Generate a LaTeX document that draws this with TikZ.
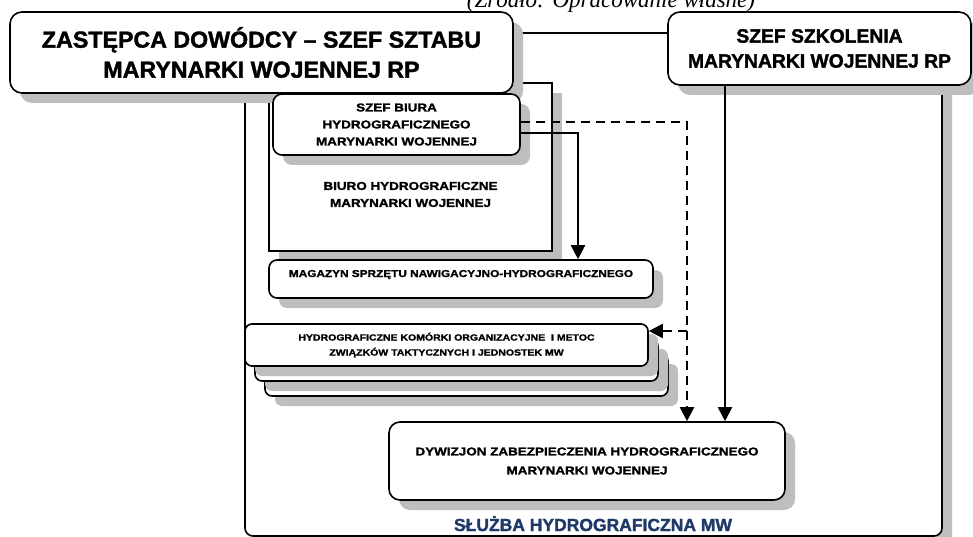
\documentclass[tikz,border=0pt]{standalone}
\usepackage{fontspec}
\setmainfont{Liberation Sans}[BoldFeatures={FakeBold=1.6}]
\newfontfamily\widef{Liberation Sans}[FakeStretch=1.18,BoldFeatures={FakeBold=1.6}]
\newfontfamily\capf{Liberation Serif}
\usetikzlibrary{shadows,arrows.meta,calc}
\definecolor{shgray}{RGB}{190,190,190}
\definecolor{navy}{RGB}{31,58,104}
\begin{document}
\begin{tikzpicture}[x=1pt,y=-1pt,
  shd/.style={drop shadow={shadow xshift=10pt,shadow yshift=-10pt,fill=shgray,opacity=1}},
  box/.style={draw,line width=1.6pt,fill=white,rounded corners=#1,shd,inner sep=0pt,align=center},
  box/.default=9pt,
  sbox/.style={draw,line width=1.6pt,fill=white,shd,inner sep=0pt},
  conn/.style={line width=2pt,-{Triangle[length=14pt,width=14pt]}},
  dconn/.style={conn,dash pattern=on 9pt off 6pt},
  bigtxt/.style={font=\bfseries\fontsize{23.2}{30}\selectfont},
  medtxt/.style={font=\bfseries\fontsize{19.3}{25}\selectfont},
  smtxt/.style={font=\widef\bfseries\fontsize{11.4}{17}\selectfont},
]
\useasboundingbox (0,0) rectangle (973,537);

% outer frame (Sluzba Hydrograficzna MW)
\node[sbox,rounded corners=8pt,minimum width=697pt,minimum height=503pt] (frame) at (593.5,284.5) {};

% Biuro hydrograficzne
\node[sbox,minimum width=283pt,minimum height=168pt] (biuro) at (410.5,167) {};
\node[smtxt,align=center] (biurotxt) at (410.5,194.5) {BIURO HYDROGRAFICZNE\\MARYNARKI WOJENNEJ};

% Magazyn
\node[box=8pt,minimum width=384pt,minimum height=38pt] (mag) at (461,279) {};
\node[font=\widef\bfseries\fontsize{10}{12}\selectfont,anchor=base] (magtxt) at (461,277) {MAGAZYN SPRZĘTU NAWIGACYJNO-HYDROGRAFICZNEGO};

% stacked cells
\node[box=7pt,minimum width=403pt,minimum height=42pt] (stack3) at (466.5,375) {};
\node[box=7pt,minimum width=403pt,minimum height=42pt] (stack2) at (456.5,360) {};
\node[box=7pt,minimum width=403pt,minimum height=42pt,font=\widef\bfseries\fontsize{8.9}{15}\selectfont] (stack1) at (446.5,345)
  {HYDROGRAFICZNE KOMÓRKI ORGANIZACYJNE \ I METOC\\ZWIĄZKÓW TAKTYCZNYCH I JEDNOSTEK MW};

% Dywizjon
\node[box=11pt,minimum width=396pt,minimum height=78pt,font=\widef\bfseries\fontsize{11.4}{19}\selectfont] (dyw) at (587,461)
  {DYWIZJON ZABEZPIECZENIA HYDROGRAFICZNEGO\\MARYNARKI WOJENNEJ};

\node[font=\bfseries\fontsize{17.5}{20}\selectfont,text=navy,anchor=base] (lab) at (593,531) {SŁUŻBA HYDROGRAFICZNA MW};

% top boxes
\node[box=12pt,minimum width=503pt,minimum height=81pt,bigtxt] (big) at (261.5,52.5)
  {ZASTĘPCA DOWÓDCY – SZEF SZTABU\\MARYNARKI WOJENNEJ RP};
\node[box=12pt,minimum width=303pt,minimum height=73pt,medtxt] (szk) at (819.5,48.5)
  {SZEF SZKOLENIA\\MARYNARKI WOJENNEJ RP};
\node[box=9pt,minimum width=247pt,minimum height=61pt,smtxt] (szefb) at (396.5,124.5)
  {SZEF BIURA\\HYDROGRAFICZNEGO\\MARYNARKI WOJENNEJ};

% caption
\node[font=\capf\itshape\fontsize{23}{28}\selectfont,anchor=base] (src) at (611,7.5) {(Źródło: Opracowanie własne)};

% connectors
\draw[conn] ([yshift=-8.5pt]szefb.east) -| ([xshift=117pt]mag.north);
\draw[dconn] ([yshift=2.5pt]szefb.east) -| ([xshift=100pt]dyw.north);
\coordinate (br) at (687,331);
\draw[dconn] (br) -- (stack1.east |- br);
\draw[conn] ([xshift=-94.5pt]szk.south) -- ([xshift=-94.5pt]szk.south |- dyw.north);
\end{tikzpicture}
\end{document}
